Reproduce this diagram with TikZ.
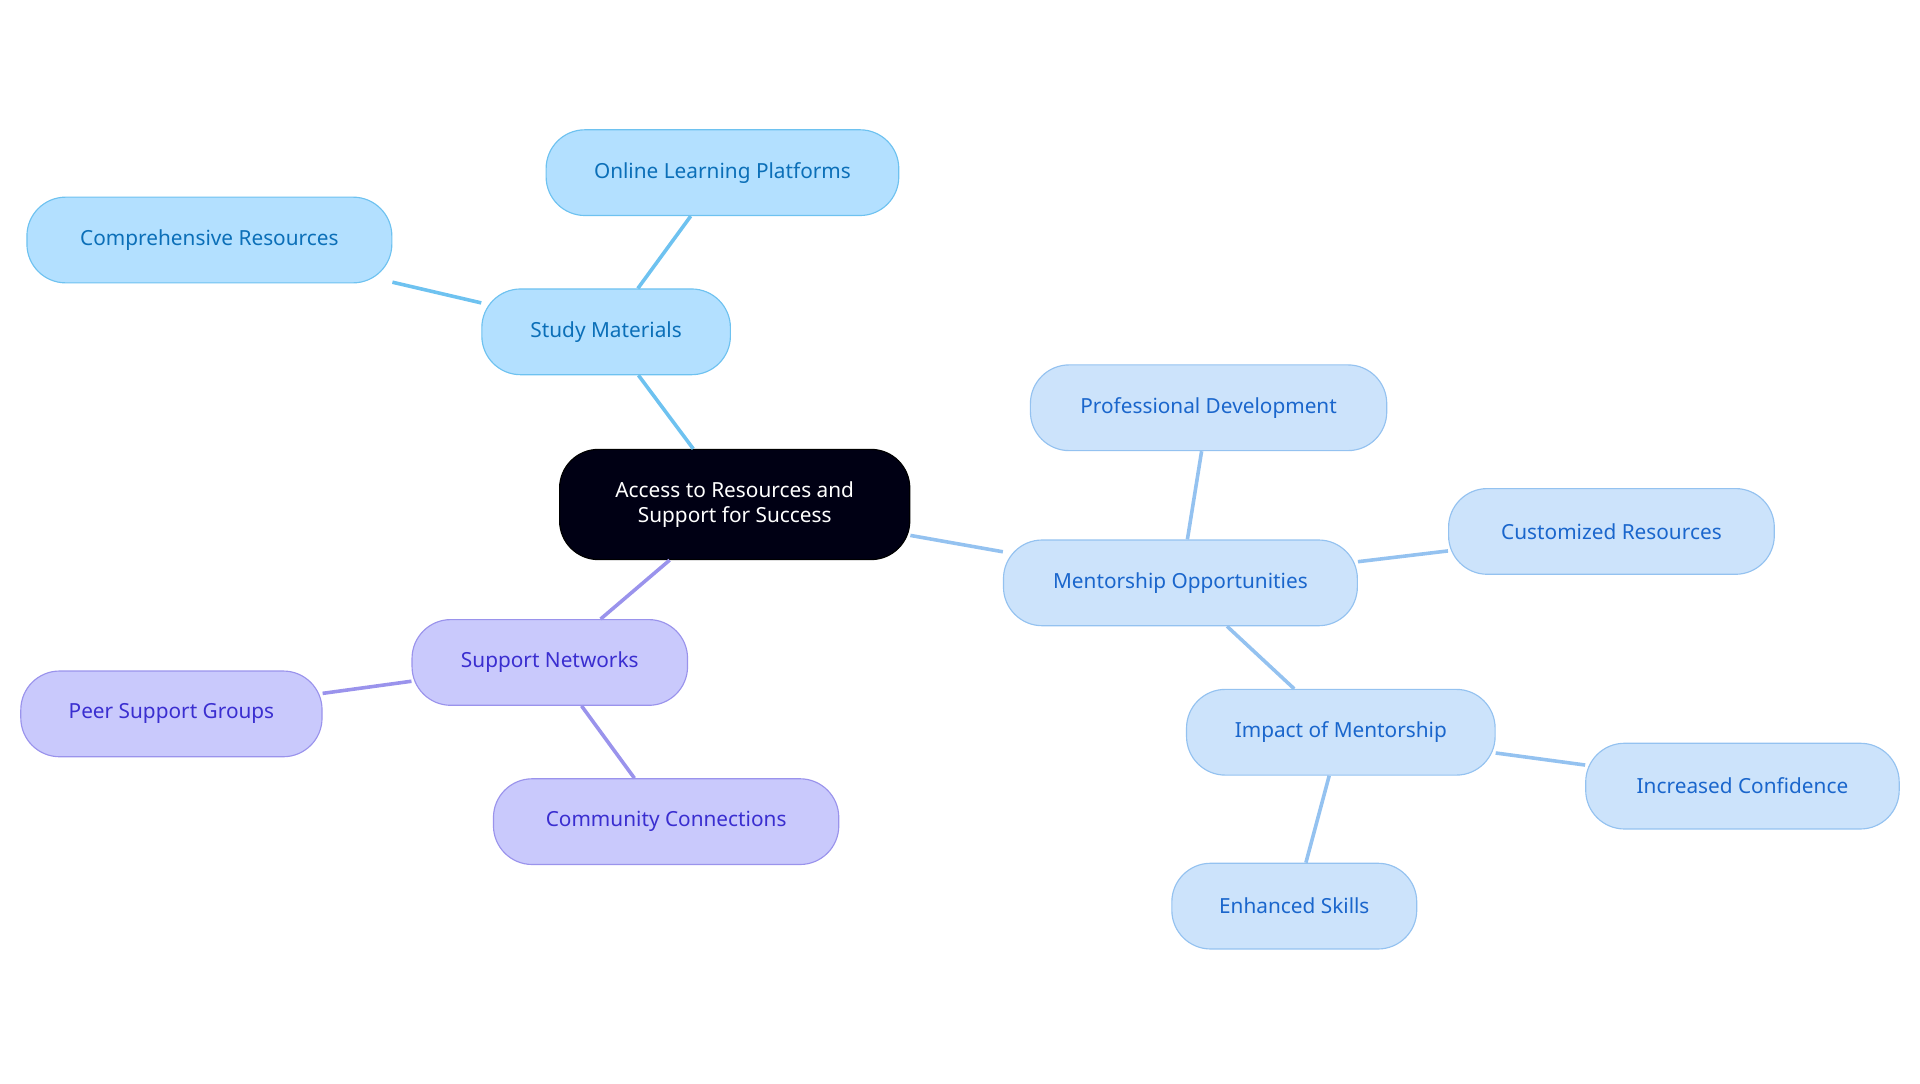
\documentclass[tikz,border=0pt]{standalone}
\usepackage{fontspec}
\setmainfont{Noto Sans}
\begin{document}
\begin{tikzpicture}[x=0.03cm,y=-0.03cm,
  base/.style={rounded corners=0.95cm,minimum height=2.1cm,line width=0.8pt,font=\fontsize{14.5}{17}\selectfont,align=center,inner sep=0pt},
  sb/.style={base,fill=sbf,draw=sbd,text=sbt},
  mb/.style={base,fill=mbf,draw=mbd,text=mbt},
  nb/.style={base,fill=nbf,draw=nbd,text=nbt},
  e/.style={line width=2.5pt}]
\definecolor{sbf}{HTML}{B3E0FF}\definecolor{sbd}{HTML}{6EC2F0}\definecolor{sbt}{HTML}{0B6FB8}
\definecolor{mbf}{HTML}{CCE3FB}\definecolor{mbd}{HTML}{94C2F0}\definecolor{mbt}{HTML}{1A66CC}
\definecolor{nbf}{HTML}{C9C9FC}\definecolor{nbd}{HTML}{9A93EC}\definecolor{nbt}{HTML}{3A2ED0}
\useasboundingbox (0,0) rectangle (1568,884.5);
\node[base,fill=black!92!blue,draw=black,text=white,minimum width=8.58cm,minimum height=2.7cm] (r) at (600,412) {Access to Resources and\\Support for Success};
\node[sb,minimum width=6.09cm] (sm) at (495,271) {Study Materials};
\node[sb,minimum width=8.64cm] (ol) at (590,141) {Online Learning Platforms};
\node[sb,minimum width=8.94cm] (cr) at (171,196) {Comprehensive Resources};
\node[nb,minimum width=6.75cm] (sn) at (449,541) {Support Networks};
\node[nb,minimum width=7.38cm] (ps) at (140,583) {Peer Support Groups};
\node[nb,minimum width=8.46cm] (cc) at (544,671) {Community Connections};
\node[mb,minimum width=8.67cm] (mo) at (964,476) {Mentorship Opportunities};
\node[mb,minimum width=8.73cm] (pd) at (987,333) {Professional Development};
\node[mb,minimum width=7.98cm] (cu) at (1316,434) {Customized Resources};
\node[mb,minimum width=7.56cm] (im) at (1095,598) {Impact of Mentorship};
\node[mb,minimum width=7.68cm] (ic) at (1423,642) {Increased Confidence};
\node[mb,minimum width=6.0cm] (es) at (1057,740) {Enhanced Skills};
\draw[e,draw=sbd] (r) -- (sm); \draw[e,draw=sbd] (sm) -- (ol); \draw[e,draw=sbd] (sm) -- (cr);
\draw[e,draw=nbd] (r) -- (sn); \draw[e,draw=nbd] (sn) -- (ps); \draw[e,draw=nbd] (sn) -- (cc);
\draw[e,draw=mbd] (r) -- (mo); \draw[e,draw=mbd] (mo) -- (pd); \draw[e,draw=mbd] (mo) -- (cu);
\draw[e,draw=mbd] (mo) -- (im); \draw[e,draw=mbd] (im) -- (ic); \draw[e,draw=mbd] (im) -- (es);
\end{tikzpicture}
\end{document}
